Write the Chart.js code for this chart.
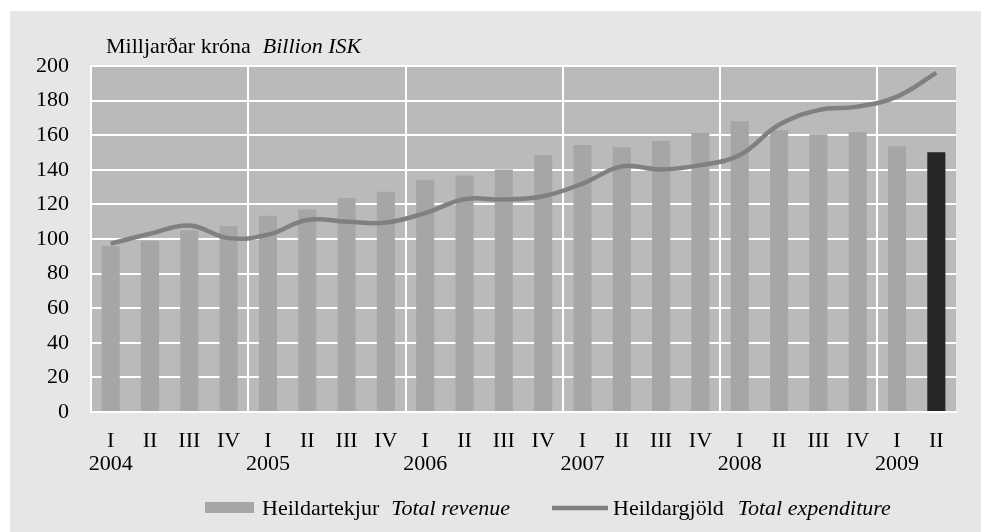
<!DOCTYPE html>
<html>
<head>
<meta charset="utf-8">
<script src="https://cdn.jsdelivr.net/npm/chart.js@4"></script>
<style>
  html, body { margin: 0; padding: 0; background: #fff; }
  #wrap { width: 981px; height: 532px; }
</style>
</head>
<body>
<div id="wrap"><canvas id="chart" width="981" height="532"></canvas></div>
<script>
const quarters = ['I', 'II', 'III', 'IV', 'I', 'II', 'III', 'IV', 'I', 'II', 'III', 'IV',
  'I', 'II', 'III', 'IV', 'I', 'II', 'III', 'IV', 'I', 'II']
const years = ['2004', '', '', '', '2005', '', '', '', '2006', '', '', '',
  '2007', '', '', '', '2008', '', '', '', '2009', '']

// Heildartekjur (Total revenue)
const revenue = [96, 99, 105, 107.5, 113.5, 117, 123.7, 127.3, 134.3, 136.7, 140.2, 148.6,
  154.3, 153.1, 156.6, 161.2, 168, 162.9, 160.6, 161.7, 153.6, 150.1]
// Heildargjöld (Total expenditure)
const expenditure = [97.3, 103, 107.8, 100.5, 102.5, 111, 110, 109.5, 115, 123, 122.8, 124.7,
  132, 142, 140.2, 142.7, 148.5, 166, 174.5, 176.5, 182.3, 196]

const yTicks = [0, 20, 40, 60, 80, 100, 120, 140, 160, 180, 200]

const FONT = '"Liberation Serif", "Times New Roman", serif'
const labels = quarters.map((q, i) => [q, years[i]])
const barColors = revenue.map((v, i) => (i === revenue.length - 1 ? '#262626' : '#a6a6a6'))

// grey panel and plot background
const backdrop = {
  id: 'backdrop',
  beforeDraw(chart) {
    const { ctx, chartArea } = chart
    ctx.save()
    ctx.fillStyle = '#ffffff'
    ctx.fillRect(0, 0, chart.width, chart.height)
    ctx.fillStyle = '#e6e6e6'
    ctx.fillRect(10, 11, chart.width - 10, chart.height - 11)
    ctx.fillStyle = '#bababa'
    ctx.fillRect(chartArea.left, chartArea.top, chartArea.right - chartArea.left, chartArea.bottom - chartArea.top)
    ctx.restore()
  },
}

// title and legend with mixed upright / italic text
const texts = {
  id: 'texts',
  afterDraw(chart) {
    const { ctx } = chart
    ctx.save()
    ctx.fillStyle = '#000'
    ctx.textBaseline = 'alphabetic'
    ctx.textAlign = 'left'
    const put = (str, x, y, italic) => {
      ctx.font = (italic ? 'italic ' : '') + '22px ' + FONT
      ctx.fillText(str, x, y)
      return x + ctx.measureText(str).width
    }
    let x = put('Milljarðar króna', 106, 53, false)
    put('Billion ISK', x + 12, 53, true)

    const ly = 515
    ctx.fillStyle = '#a6a6a6'
    ctx.fillRect(205, 502, 49, 11)
    ctx.fillStyle = '#000'
    x = put('Heildartekjur', 262, ly, false)
    put('Total revenue', x + 12, ly, true)

    ctx.strokeStyle = '#808080'
    ctx.lineWidth = 4.5
    ctx.beginPath()
    ctx.moveTo(552, 508)
    ctx.lineTo(608, 508)
    ctx.stroke()
    x = put('Heildargjöld', 613, ly, false)
    put('Total expenditure', x + 14, ly, true)
    ctx.restore()
  },
}

new Chart(document.getElementById('chart'), {
  data: {
    labels,
    datasets: [
      {
        type: 'bar',
        label: 'Heildartekjur',
        data: revenue,
        backgroundColor: barColors,
        barPercentage: 0.46,
        categoryPercentage: 1,
        order: 1,
      },
      {
        type: 'line',
        label: 'Heildargjöld',
        data: expenditure,
        borderColor: '#808080',
        borderWidth: 4.5,
        pointRadius: 0,
        tension: 0.4,
        fill: false,
        order: 0,
      },
    ],
  },
  options: {
    responsive: false,
    animation: false,
    layout: { padding: { top: 66, right: 25, left: 0, bottom: 0 } },
    plugins: {
      legend: { display: false },
      tooltip: { enabled: false },
    },
    scales: {
      x: {
        offset: true,
        grid: {
          offset: true,
          drawTicks: false,
          lineWidth: 2,
          color: (c) => (c.index % 4 === 0 ? '#ffffff' : 'rgba(0,0,0,0)'),
        },
        border: { display: true, color: '#ffffff', width: 2 },
        ticks: {
          color: '#000',
          padding: 18,
          maxRotation: 0,
          autoSkip: false,
          font: { family: FONT, size: 22, lineHeight: 1.05 },
        },
        afterFit: (scale) => { scale.height = 120 },
      },
      y: {
        min: 0,
        max: 200,
        afterBuildTicks: (scale) => { scale.ticks = yTicks.map((v) => ({ value: v })) },
        grid: { color: '#ffffff', lineWidth: 2, drawTicks: false },
        border: { display: true, color: '#ffffff', width: 2 },
        ticks: {
          color: '#000',
          padding: 22,
          font: { family: FONT, size: 22 },
        },
        afterFit: (scale) => { scale.width = 91 },
      },
    },
  },
  plugins: [backdrop, texts],
})
</script>
</body>
</html>
